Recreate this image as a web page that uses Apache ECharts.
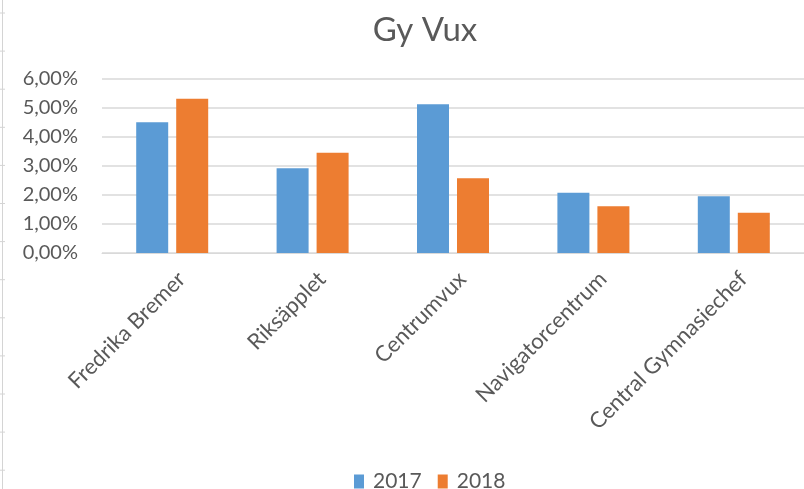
<!DOCTYPE html>
<html>
<head>
<meta charset="utf-8">
<script src="https://cdn.jsdelivr.net/npm/echarts@6/dist/echarts.min.js"></script>
<style>
  html, body { margin: 0; padding: 0; background: #fff; }
</style>
</head>
<body>
<div id="main" style="width: 804px;height:489px;"></div>
<script>
// kategorier och värden (andel i %)
var categories = ['Fredrika Bremer', 'Riksäpplet', 'Centrumvux', 'Navigatorcentrum', 'Central Gymnasiechef']
var values2017 = [4.51, 2.92, 5.13, 2.08, 1.96]
var values2018 = [5.32, 3.46, 2.58, 1.61, 1.39]
var yTicks = [0, 1, 2, 3, 4, 5, 6]

var font = 'Lato'
var grey = '#595959'

// kalkylbladets radlinjer till vänster
var rowMarks = []
for (var y = 13; y < 489; y += 38.1) {
  rowMarks.push({ type: 'line', shape: { x1: 0, y1: y, x2: 5, y2: y }, style: { stroke: '#d4d4d4', lineWidth: 1 } })
}
rowMarks.push({ type: 'line', shape: { x1: 2.5, y1: 0, x2: 2.5, y2: 489 }, style: { stroke: '#d4d4d4', lineWidth: 1 } })

var myChart = echarts.init(document.getElementById('main'))
myChart.setOption({
  animation: false,
  color: ['#5B9BD5', '#ED7D31'],
  title: {
    text: 'Gy Vux',
    left: 420,
    textAlign: 'center',
    top: 9,
    textStyle: { fontFamily: font, fontSize: 33, fontWeight: 'normal', color: grey }
  },
  legend: {
    data: ['2017', '2018'],
    top: 466,
    left: 349,
    itemWidth: 10,
    itemHeight: 14,
    itemGap: 16,
    icon: 'rect',
    textStyle: { fontFamily: font, fontSize: 21, color: grey, padding: [0, 0, 0, 4] }
  },
  grid: {
    left: 102,
    top: 79,
    width: 713,
    height: 174,
    containLabel: false
  },
  xAxis: {
    type: 'category',
    data: categories,
    axisLine: { lineStyle: { color: '#d9d9d9', width: 1 } },
    axisTick: { show: false },
    axisLabel: {
      interval: 0,
      rotate: 45,
      margin: 13,
      lineHeight: 27,
      fontFamily: font,
      fontSize: 22,
      color: grey,
      // tom rad ovanför flyttar texten snett nedåt som i Excel
      formatter: function (v) { return ' \n' + v }
    }
  },
  yAxis: {
    type: 'value',
    min: 0,
    max: 6,
    interval: 1,
    axisLine: { show: false },
    axisTick: { show: false },
    splitLine: { lineStyle: { color: '#d9d9d9', width: 1.5 } },
    axisLabel: {
      margin: 24,
      fontFamily: font,
      fontSize: 20,
      color: grey,
      formatter: function (v) {
        return yTicks.indexOf(v) >= 0 ? v.toFixed(2).replace('.', ',') + '%' : ''
      }
    }
  },
  series: [
    {
      name: '2017',
      type: 'bar',
      data: values2017,
      barWidth: 32,
      barGap: '25%'
    },
    {
      name: '2018',
      type: 'bar',
      data: values2018,
      barWidth: 32,
      barGap: '25%'
    }
  ],
  graphic: rowMarks
})
</script>
</body>
</html>
